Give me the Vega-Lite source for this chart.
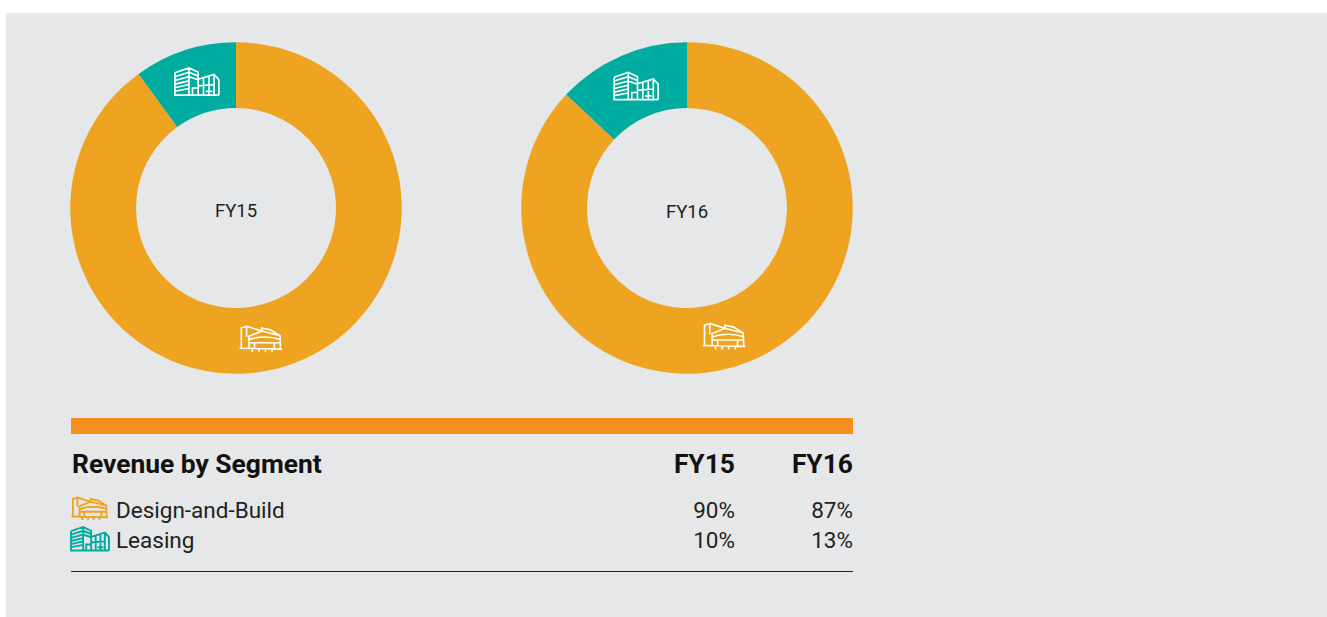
{"$schema":"https://vega.github.io/schema/vega-lite/v6.json","background":"#FFFFFF","padding":{"left":6,"top":13,"right":0,"bottom":0},"config":{"view":{"fill":"#E6E7E8","stroke":null},"concat":{"spacing":0},"font":"Roboto","text":{"font":"Roboto"}},"datasets":{"revenue":[{"fy":"FY15","segment":"Design-and-Build","share":90},{"fy":"FY15","segment":"Leasing","share":10},{"fy":"FY16","segment":"Design-and-Build","share":87},{"fy":"FY16","segment":"Leasing","share":13}]},"spacing":0,"vconcat":[{"spacing":0,"hconcat":[{"width":460,"height":390,"data":{"name":"revenue"},"transform":[{"filter":"datum.fy==='FY15'"}],"layer":[{"mark":{"type":"arc","innerRadius":100,"outerRadius":165.75},"encoding":{"theta":{"field":"share","type":"quantitative","stack":true},"order":{"field":"segment"},"color":{"field":"segment","type":"nominal","legend":null,"scale":{"domain":["Design-and-Build","Leasing"],"range":["#EEA420","#00AC9F"]}}}},{"transform":[{"aggregate":[{"op":"min","field":"fy","as":"fy"}]}],"mark":{"type":"text","fontSize":18.5,"color":"#222222","dy":3},"encoding":{"text":{"field":"fy"}}},{"transform":[{"calculate":"datum.segment==='Leasing'?-1.8*datum.share:1.8*datum.share+8","as":"angle"},{"calculate":"133*sin(datum.angle*PI/180)","as":"ix"},{"calculate":"133*cos(datum.angle*PI/180)","as":"iy"}],"mark":{"type":"point","filled":false,"stroke":"#FFFFFF","strokeWidth":1.6,"size":1936,"opacity":1,"xOffset":2},"encoding":{"x":{"field":"ix","type":"quantitative","axis":null,"scale":{"domain":[-230,230]}},"y":{"field":"iy","type":"quantitative","axis":null,"scale":{"domain":[-195,195]}},"shape":{"field":"segment","type":"nominal","legend":null,"scale":{"domain":["Design-and-Build","Leasing"],"range":["M-.9,.42L-.9,-.5L-.66,-.58L.02,-.36M-.66,-.58L-.66,-.1M.03,-.36L.03,-.5L.41,-.42L.86,-.15M-.6,-.1L.03,-.36L.86,-.15L.88,.42M-.6,.05Q.1,-.22.88,.02M-.55,.17L.87,.17M-.55,-.1L-.55,.42M-.3,.17L-.3,.42M.6,.17L.6,.42M-.98,.42L.95,.46M-.4,.46L-.4,.6M-.1,.46L-.1,.6M.2,.46L.2,.6M.5,.46L.5,.6","M-1,-.4L-.36,-.62L.06,-.42L.06,.62M-1,-.4L-1,.62L1,.62M-.36,-.62L-.36,.62M-1,-.22L-.36,-.42L.06,-.25M-1,-.05L-.36,-.22L.06,-.08M-1,.12L-.36,-.03M-1,.28L-.36,.14M-1,.44L-.36,.32M-.2,.62L-.2,.3L.06,.3M.06,-.1L.78,-.32L1,-.08L1,.62M.78,-.32L.78,.62M.3,-.17L.3,.62M.55,-.24L.55,.62M.06,.2L.78,.14M.4,.45L.7,.45"]}}}}],"resolve":{"scale":{"color":"independent"}}},{"width":442,"height":390,"data":{"name":"revenue"},"transform":[{"filter":"datum.fy==='FY16'"}],"layer":[{"mark":{"type":"arc","innerRadius":100,"outerRadius":165.75},"encoding":{"theta":{"field":"share","type":"quantitative","stack":true},"order":{"field":"segment"},"color":{"field":"segment","type":"nominal","legend":null,"scale":{"domain":["Design-and-Build","Leasing"],"range":["#EEA420","#00AC9F"]}}}},{"transform":[{"aggregate":[{"op":"min","field":"fy","as":"fy"}]}],"mark":{"type":"text","fontSize":18.5,"color":"#222222","dy":4},"encoding":{"text":{"field":"fy"}}},{"transform":[{"calculate":"datum.segment==='Leasing'?-1.8*datum.share:1.8*datum.share+8","as":"angle"},{"calculate":"133*sin(datum.angle*PI/180)","as":"ix"},{"calculate":"133*cos(datum.angle*PI/180)","as":"iy"}],"mark":{"type":"point","filled":false,"stroke":"#FFFFFF","strokeWidth":1.6,"size":1936,"opacity":1,"xOffset":2},"encoding":{"x":{"field":"ix","type":"quantitative","axis":null,"scale":{"domain":[-221,221]}},"y":{"field":"iy","type":"quantitative","axis":null,"scale":{"domain":[-195,195]}},"shape":{"field":"segment","type":"nominal","legend":null,"scale":{"domain":["Design-and-Build","Leasing"],"range":["M-.9,.42L-.9,-.5L-.66,-.58L.02,-.36M-.66,-.58L-.66,-.1M.03,-.36L.03,-.5L.41,-.42L.86,-.15M-.6,-.1L.03,-.36L.86,-.15L.88,.42M-.6,.05Q.1,-.22.88,.02M-.55,.17L.87,.17M-.55,-.1L-.55,.42M-.3,.17L-.3,.42M.6,.17L.6,.42M-.98,.42L.95,.46M-.4,.46L-.4,.6M-.1,.46L-.1,.6M.2,.46L.2,.6M.5,.46L.5,.6","M-1,-.4L-.36,-.62L.06,-.42L.06,.62M-1,-.4L-1,.62L1,.62M-.36,-.62L-.36,.62M-1,-.22L-.36,-.42L.06,-.25M-1,-.05L-.36,-.22L.06,-.08M-1,.12L-.36,-.03M-1,.28L-.36,.14M-1,.44L-.36,.32M-.2,.62L-.2,.3L.06,.3M.06,-.1L.78,-.32L1,-.08L1,.62M.78,-.32L.78,.62M.3,-.17L.3,.62M.55,-.24L.55,.62M.06,.2L.78,.14M.4,.45L.7,.45"]}}}}],"resolve":{"scale":{"color":"independent"}}},{"width":419,"height":390,"view":{"fill":"#E6E7E8","stroke":null},"data":{"name":"revenue"},"layer":[{"mark":{"type":"text"},"encoding":{"text":{"field":"fy","type":"nominal"},"opacity":{"value":0}}}]}]},{"spacing":0,"bounds":"flush","hconcat":[{"width":65,"height":214,"view":{"fill":"#E6E7E8","stroke":null},"data":{"name":"revenue"},"layer":[{"mark":{"type":"text"},"encoding":{"text":{"field":"fy","type":"nominal"},"opacity":{"value":0}}}]},{"width":782,"height":214,"layer":[{"data":{"values":[{"row":"bar"}]},"mark":{"type":"rule","stroke":"#F78F1E","strokeWidth":16},"encoding":{"y":{"field":"row","type":"nominal","axis":null,"scale":{"type":"point","domain":["bar","header"],"range":[23,61],"padding":0}}}},{"data":{"values":[{"row":"header","label":"Revenue by Segment"}]},"mark":{"type":"text","align":"left","baseline":"middle","fontSize":26.4,"fontWeight":"bold","color":"#111111","dy":1},"encoding":{"x":{"datum":"title","type":"nominal","axis":null,"scale":{"type":"point","domain":["title","icon","label"],"range":[1,45],"padding":0}},"y":{"field":"row","type":"nominal","axis":null,"scale":{"type":"point","domain":["bar","header"],"range":[23,61],"padding":0}},"text":{"field":"label"}}},{"data":{"values":[{"fy":"FY15","row":"header"},{"fy":"FY16","row":"header"}]},"mark":{"type":"text","align":"right","baseline":"middle","fontSize":26.4,"fontWeight":"bold","color":"#111111","dy":1},"encoding":{"x":{"field":"fy","type":"nominal","axis":null,"scale":{"type":"point","domain":["FY15","FY16"],"range":[664,782],"padding":0}},"y":{"field":"row","type":"nominal","axis":null,"scale":{"type":"point","domain":["bar","header"],"range":[23,61],"padding":0}},"text":{"field":"fy"}}},{"data":{"values":[{"row":"Design-and-Build"},{"row":"Leasing"}]},"mark":{"type":"text","align":"left","baseline":"middle","fontSize":22.5,"color":"#222222"},"encoding":{"x":{"datum":"label","type":"nominal","axis":null,"scale":{"type":"point","domain":["title","icon","label"],"range":[1,45],"padding":0}},"y":{"field":"row","type":"nominal","axis":null,"scale":{"type":"point","domain":["Design-and-Build","Leasing","rule"],"range":[108,168.5],"padding":0}},"text":{"field":"row"}}},{"data":{"values":[{"row":"Design-and-Build"},{"row":"Leasing"}]},"mark":{"type":"point","filled":false,"strokeWidth":1.9,"size":1444,"opacity":1,"xOffset":-4,"yOffset":-2.5},"encoding":{"x":{"datum":"icon","type":"nominal","axis":null,"scale":{"type":"point","domain":["title","icon","label"],"range":[1,45],"padding":0}},"y":{"field":"row","type":"nominal","axis":null,"scale":{"type":"point","domain":["Design-and-Build","Leasing","rule"],"range":[108,168.5],"padding":0}},"stroke":{"field":"row","type":"nominal","legend":null,"scale":{"domain":["Design-and-Build","Leasing"],"range":["#EEA420","#00AC9F"]}},"shape":{"field":"row","type":"nominal","legend":null,"scale":{"domain":["Design-and-Build","Leasing"],"range":["M-.9,.42L-.9,-.5L-.66,-.58L.02,-.36M-.66,-.58L-.66,-.1M.03,-.36L.03,-.5L.41,-.42L.86,-.15M-.6,-.1L.03,-.36L.86,-.15L.88,.42M-.6,.05Q.1,-.22.88,.02M-.55,.17L.87,.17M-.55,-.1L-.55,.42M-.3,.17L-.3,.42M.6,.17L.6,.42M-.98,.42L.95,.46M-.4,.46L-.4,.6M-.1,.46L-.1,.6M.2,.46L.2,.6M.5,.46L.5,.6","M-1,-.4L-.36,-.62L.06,-.42L.06,.62M-1,-.4L-1,.62L1,.62M-.36,-.62L-.36,.62M-1,-.22L-.36,-.42L.06,-.25M-1,-.05L-.36,-.22L.06,-.08M-1,.12L-.36,-.03M-1,.28L-.36,.14M-1,.44L-.36,.32M-.2,.62L-.2,.3L.06,.3M.06,-.1L.78,-.32L1,-.08L1,.62M.78,-.32L.78,.62M.3,-.17L.3,.62M.55,-.24L.55,.62M.06,.2L.78,.14M.4,.45L.7,.45"]}}}},{"data":{"name":"revenue"},"transform":[{"calculate":"datum.share+'%'","as":"pct"}],"mark":{"type":"text","align":"right","baseline":"middle","fontSize":22.5,"color":"#222222"},"encoding":{"x":{"field":"fy","type":"nominal","axis":null,"scale":{"type":"point","domain":["FY15","FY16"],"range":[664,782],"padding":0}},"y":{"field":"segment","type":"nominal","axis":null,"scale":{"type":"point","domain":["Design-and-Build","Leasing","rule"],"range":[108,168.5],"padding":0}},"text":{"field":"pct"}}},{"data":{"values":[{"row":"rule"}]},"mark":{"type":"rule","stroke":"#222222","strokeWidth":1},"encoding":{"y":{"field":"row","type":"nominal","axis":null,"scale":{"type":"point","domain":["Design-and-Build","Leasing","rule"],"range":[108,168.5],"padding":0}}}}],"resolve":{"scale":{"x":"independent","y":"independent","stroke":"independent","shape":"independent"}}},{"width":474,"height":214,"view":{"fill":"#E6E7E8","stroke":null},"data":{"name":"revenue"},"layer":[{"mark":{"type":"text"},"encoding":{"text":{"field":"fy","type":"nominal"},"opacity":{"value":0}}}]}]}]}
